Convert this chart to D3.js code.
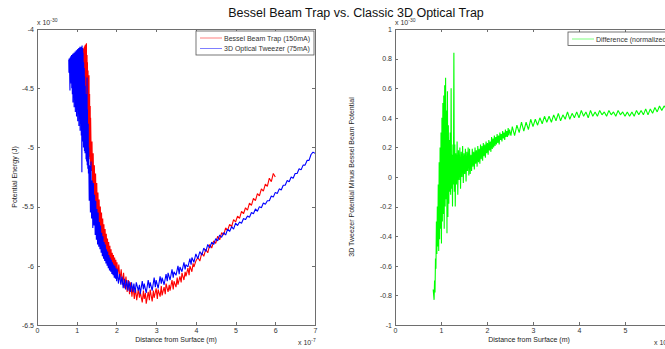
<!DOCTYPE html>
<html>
<head>
<meta charset="utf-8">
<script src="https://cdn.jsdelivr.net/npm/d3@7"></script>
<style>
  body { margin: 0; background: #fff; }
  text { font-family: "Liberation Sans", Arial, sans-serif; }
  .axis path, .axis line { stroke: #6e6e6e; shape-rendering: crispEdges; }
  .axis text { fill: #333; font-size: 7px; font-family: "Liberation Sans", Arial, sans-serif; }
</style>
</head>
<body>
<svg id="chart" width="665" height="349"></svg>
<script>
// distance in units of 1e-7 m, potential in units of 1e-30 J
const besselBeamTrap = [
  [1.10,-4.21],[1.105,-4.40],[1.11,-4.20],[1.12,-4.50],[1.125,-4.19],[1.13,-4.55],[1.14,-4.18],[1.145,-4.62],[1.15,-4.17],[1.16,-4.66],
  [1.165,-4.17],[1.17,-4.70],[1.18,-4.16],[1.185,-4.75],[1.19,-4.15],[1.20,-4.78],[1.205,-4.14],[1.21,-4.82],[1.22,-4.13],[1.225,-4.85],
  [1.23,-4.13],[1.24,-4.88],[1.245,-4.12],[1.25,-4.92],[1.26,-4.22],[1.265,-4.95],[1.27,-4.28],[1.28,-5.00],[1.285,-4.35],[1.29,-5.02],
  [1.30,-4.45],[1.305,-5.05],[1.31,-4.39],[1.32,-5.08],[1.325,-4.55],[1.33,-5.10],[1.34,-4.65],[1.345,-5.15],[1.35,-4.75],
  [1.37,-5.20],[1.385,-4.95],[1.40,-5.32],[1.415,-5.05],[1.43,-5.42],[1.445,-5.15],[1.46,-5.50],[1.475,-5.22],[1.49,-5.58],[1.505,-5.30],
  [1.52,-5.63],[1.535,-5.38],[1.55,-5.68],[1.565,-5.44],[1.58,-5.72],[1.595,-5.50],[1.61,-5.75],[1.625,-5.55],[1.64,-5.79],[1.655,-5.60],
  [1.67,-5.82],[1.685,-5.65],[1.70,-5.85],[1.715,-5.69],[1.73,-5.88],[1.745,-5.73],[1.76,-5.91],[1.775,-5.77],[1.79,-5.93],[1.805,-5.80],
  [1.82,-5.96],[1.835,-5.83],[1.85,-5.98],[1.865,-5.86],[1.88,-6.00],[1.895,-5.89],[1.91,-6.02],[1.925,-5.91],[1.94,-6.04],[1.955,-5.93],
  [1.97,-6.06],[1.985,-5.95],[2.00,-6.07],[2.015,-5.97],[2.03,-6.09],
  [2.06,-5.99],[2.09,-6.12],[2.12,-6.03],[2.15,-6.16],[2.18,-6.06],[2.21,-6.19],[2.24,-6.09],
  [2.27,-6.22],[2.30,-6.12],[2.33,-6.24],[2.36,-6.14],[2.39,-6.26],[2.42,-6.17],[2.45,-6.28],[2.48,-6.19],
  [2.51,-6.29],[2.55,-6.20],[2.58,-6.27],[2.60,-6.22],[2.65,-6.31],[2.68,-6.21],[2.70,-6.28],[2.73,-6.23],[2.75,-6.32],[2.80,-6.22],
  [2.83,-6.29],[2.85,-6.20],[2.90,-6.30],[2.93,-6.21],[2.95,-6.27],[3.00,-6.19],[3.03,-6.28],[3.05,-6.20],[3.10,-6.26],[3.13,-6.17],
  [3.15,-6.25],[3.20,-6.18],[3.23,-6.24],[3.25,-6.15],[3.30,-6.22],[3.33,-6.16],[3.35,-6.21],[3.40,-6.12],[3.43,-6.20],[3.45,-6.13],
  [3.50,-6.18],[3.53,-6.10],[3.55,-6.16],[3.60,-6.09],[3.63,-6.14],[3.65,-6.06],[3.70,-6.12],[3.73,-6.05],[3.75,-6.09],[3.80,-6.02],
  [3.83,-6.08],[3.85,-6.00],[3.90,-6.05],[3.93,-5.98],[3.95,-6.01],[4.00,-5.96],[4.05,-5.93],
  [4.10,-5.96],[4.15,-5.89],[4.20,-5.92],[4.25,-5.86],[4.30,-5.89],[4.35,-5.82],[4.40,-5.85],[4.45,-5.79],[4.50,-5.81],[4.55,-5.75],
  [4.60,-5.78],[4.65,-5.72],[4.70,-5.74],[4.75,-5.68],[4.80,-5.70],[4.85,-5.65],[4.90,-5.67],[4.95,-5.61],[5.00,-5.63],[5.05,-5.58],
  [5.10,-5.60],[5.15,-5.54],[5.20,-5.56],[5.25,-5.51],[5.30,-5.53],[5.35,-5.47],[5.40,-5.49],[5.45,-5.43],[5.50,-5.45],[5.55,-5.39],
  [5.60,-5.41],[5.65,-5.35],[5.70,-5.37],[5.75,-5.31],[5.80,-5.33],[5.85,-5.26],[5.90,-5.29],[5.95,-5.22],[6.00,-5.25]
];

const opticalTweezer = [
  [0.80,-4.26],[0.805,-4.37],[0.81,-4.25],[0.82,-4.33],[0.83,-4.52],[0.835,-4.24],[0.84,-4.41],[0.85,-4.23],[0.86,-4.46],[0.87,-4.22],
  [0.875,-4.50],[0.88,-4.22],[0.89,-4.55],[0.90,-4.21],[0.905,-4.62],[0.91,-4.21],[0.92,-4.58],[0.93,-4.20],[0.935,-4.66],[0.94,-4.20],
  [0.95,-4.60],[0.96,-4.19],[0.965,-4.70],[0.97,-4.19],[0.98,-4.66],[0.99,-4.18],[0.995,-4.74],[1.00,-4.18],[1.01,-4.68],[1.02,-4.17],
  [1.025,-4.78],[1.03,-4.17],[1.04,-4.72],[1.05,-4.16],[1.055,-4.82],[1.06,-4.16],[1.07,-4.76],[1.08,-4.15],[1.085,-4.86],[1.09,-4.16],
  [1.10,-4.80],[1.11,-4.15],[1.115,-4.90],[1.12,-4.15],[1.13,-5.21],[1.135,-4.14],[1.14,-4.88],[1.15,-4.16],[1.155,-4.95],[1.16,-4.20],
  [1.17,-5.00],[1.175,-4.28],[1.18,-4.95],[1.19,-4.33],[1.195,-5.03],[1.20,-4.40],[1.21,-5.05],[1.215,-4.48],[1.22,-5.02],[1.23,-4.55],
  [1.235,-5.10],[1.24,-4.60],[1.25,-5.12],[1.26,-4.41],[1.265,-5.15],[1.27,-4.68],[1.28,-5.18],[1.29,-4.80],[1.295,-5.22],
  [1.30,-5.00],[1.315,-5.45],[1.33,-5.15],[1.345,-5.55],[1.36,-5.12],[1.375,-5.60],[1.39,-5.28],[1.405,-5.68],[1.42,-5.30],[1.435,-5.66],
  [1.45,-5.40],[1.465,-5.74],[1.48,-5.45],[1.495,-5.78],[1.51,-5.52],[1.525,-5.82],[1.54,-5.55],[1.555,-5.84],[1.57,-5.63],[1.585,-5.86],
  [1.60,-5.66],[1.615,-5.89],[1.63,-5.72],[1.645,-5.92],[1.66,-5.75],[1.675,-5.94],[1.69,-5.80],[1.705,-5.96],[1.72,-5.82],[1.735,-5.98],
  [1.75,-5.86],[1.765,-6.00],[1.78,-5.88],[1.795,-6.02],[1.81,-5.91],[1.825,-6.04],[1.84,-5.93],[1.855,-6.05],[1.87,-5.95],[1.885,-6.07],
  [1.90,-5.97],[1.915,-6.08],[1.93,-5.99],[1.945,-6.10],[1.96,-6.00],[1.975,-6.11],[1.99,-6.02],[2.005,-6.13],[2.02,-6.03],
  [2.05,-6.15],[2.08,-6.07],[2.11,-6.16],[2.14,-6.09],[2.17,-6.19],
  [2.20,-6.11],[2.23,-6.20],[2.26,-6.12],[2.29,-6.21],[2.32,-6.13],[2.35,-6.22],[2.38,-6.14],[2.41,-6.22],[2.44,-6.15],[2.47,-6.23],
  [2.50,-6.14],[2.55,-6.21],[2.58,-6.16],[2.60,-6.24],[2.65,-6.13],[2.68,-6.20],[2.70,-6.15],[2.75,-6.23],[2.80,-6.12],[2.83,-6.19],
  [2.85,-6.14],[2.90,-6.21],[2.95,-6.10],[2.98,-6.18],[3.00,-6.12],[3.05,-6.19],[3.10,-6.09],[3.13,-6.15],[3.15,-6.10],[3.20,-6.16],
  [3.25,-6.07],[3.28,-6.13],[3.30,-6.06],[3.35,-6.12],[3.40,-6.03],[3.43,-6.10],[3.45,-6.05],[3.50,-6.08],[3.55,-6.00],[3.58,-6.07],
  [3.60,-6.01],[3.65,-6.05],[3.70,-5.97],[3.73,-6.03],[3.75,-5.99],[3.80,-6.01],[3.85,-5.94],[3.88,-5.99],[3.90,-5.93],[3.95,-5.97],
  [4.00,-5.90],[4.05,-5.94],[4.10,-5.88],[4.15,-5.91],[4.20,-5.85],[4.25,-5.88],[4.30,-5.82],[4.35,-5.85],[4.40,-5.80],[4.45,-5.82],
  [4.50,-5.77],[4.55,-5.79],[4.60,-5.74],[4.65,-5.76],[4.70,-5.72],[4.75,-5.74],[4.80,-5.69],[4.85,-5.71],[4.90,-5.67],[4.95,-5.69],
  [5.00,-5.64],[5.05,-5.66],[5.10,-5.63],[5.15,-5.64],[5.20,-5.60],[5.25,-5.61],[5.30,-5.58],[5.35,-5.59],[5.40,-5.55],[5.45,-5.56],
  [5.50,-5.52],[5.55,-5.54],[5.60,-5.50],[5.65,-5.51],[5.70,-5.47],[5.75,-5.48],[5.80,-5.45],[5.85,-5.45],[5.90,-5.41],[5.95,-5.42],
  [6.00,-5.38],[6.05,-5.39],[6.10,-5.35],[6.15,-5.36],[6.20,-5.32],[6.25,-5.32],[6.30,-5.28],[6.35,-5.29],[6.40,-5.25],[6.45,-5.26],
  [6.50,-5.22],[6.55,-5.22],[6.60,-5.18],[6.65,-5.19],[6.70,-5.15],[6.75,-5.15],[6.80,-5.11],[6.85,-5.11],[6.90,-5.06],[6.95,-5.04],
  [7.00,-5.05]
];

// normalized difference, units of 1e-30
const differenceNormalized = [
  [0.83,-0.76],[0.85,-0.83],[0.86,-0.70],[0.87,-0.78],[0.88,-0.55],[0.89,-0.62],[0.90,-0.30],[0.91,-0.52],[0.92,-0.20],[0.93,-0.47],
  [0.94,-0.05],[0.95,-0.50],[0.96,0.10],[0.97,-0.42],[0.98,0.20],[0.99,-0.35],[1.00,0.30],[1.01,-0.45],[1.02,0.40],[1.03,-0.30],
  [1.04,0.50],[1.05,-0.25],[1.06,0.55],[1.07,-0.35],[1.08,0.62],[1.09,-0.20],[1.10,0.67],[1.11,-0.15],[1.12,0.45],[1.13,-0.38],
  [1.14,0.58],[1.15,-0.27],[1.16,0.35],[1.17,-0.18],[1.18,0.25],[1.19,-0.10],[1.20,0.30],[1.21,-0.12],[1.22,0.60],[1.23,-0.08],
  [1.24,0.15],[1.25,-0.20],[1.26,0.22],[1.27,-0.05],[1.28,0.84],[1.29,-0.10],
  [1.30,0.22],[1.31,-0.20],[1.32,0.16],[1.335,-0.05],[1.35,0.24],[1.365,-0.12],[1.38,0.18],[1.395,-0.02],[1.41,0.20],[1.425,-0.08],
  [1.44,0.17],[1.455,0.00],[1.47,0.21],[1.485,-0.04],[1.50,0.16],[1.515,0.02],[1.53,0.19],[1.545,-0.03],[1.56,0.17],[1.575,0.04],
  [1.59,0.20],[1.605,0.01],[1.62,0.19],
  [1.635,0.02],[1.65,0.15],[1.665,0.04],[1.68,0.19],[1.695,0.07],[1.71,0.17],[1.725,0.05],[1.74,0.20],[1.755,0.09],[1.77,0.18],
  [1.785,0.07],[1.80,0.21],[1.815,0.10],[1.83,0.19],[1.845,0.09],[1.86,0.22],[1.875,0.12],[1.89,0.21],[1.905,0.11],[1.92,0.23],
  [1.935,0.14],[1.95,0.22],[1.965,0.13],[1.98,0.24],[1.995,0.16],[2.01,0.23],[2.025,0.15],[2.04,0.25],[2.055,0.18],[2.07,0.24],
  [2.085,0.17],[2.10,0.27],[2.115,0.19],[2.13,0.26],[2.145,0.20],[2.16,0.28],[2.175,0.21],[2.19,0.27],[2.205,0.22],[2.22,0.29],
  [2.235,0.23],[2.25,0.28],[2.265,0.22],[2.28,0.30],[2.295,0.25],[2.31,0.29],[2.325,0.24],[2.34,0.31],[2.355,0.26],[2.37,0.30],
  [2.385,0.25],[2.40,0.32],[2.415,0.27],[2.43,0.31],[2.445,0.27],[2.46,0.33],[2.475,0.28],[2.49,0.32],[2.52,0.28],[2.55,0.34],
  [2.60,0.28],[2.65,0.35],[2.70,0.30],[2.75,0.37],[2.80,0.31],[2.85,0.37],[2.90,0.32],[2.95,0.39],[3.00,0.34],[3.05,0.39],
  [3.10,0.35],[3.15,0.40],[3.20,0.36],[3.25,0.41],[3.30,0.37],[3.35,0.41],[3.40,0.37],[3.45,0.42],[3.50,0.38],[3.55,0.43],
  [3.60,0.38],[3.65,0.42],[3.70,0.39],[3.75,0.44],[3.80,0.39],[3.85,0.43],[3.90,0.40],[3.95,0.44],[4.00,0.40],[4.05,0.45],
  [4.10,0.41],[4.15,0.44],[4.20,0.40],[4.25,0.45],[4.30,0.41],[4.35,0.44],[4.40,0.41],[4.45,0.45],[4.50,0.42],[4.55,0.44],
  [4.60,0.41],[4.65,0.45],[4.70,0.42],[4.75,0.44],[4.80,0.41],[4.85,0.45],[4.90,0.42],[4.95,0.44],[5.00,0.41],[5.05,0.44],
  [5.10,0.41],[5.15,0.44],[5.20,0.41],[5.25,0.45],[5.30,0.42],[5.35,0.45],[5.40,0.42],[5.45,0.46],[5.50,0.42],[5.55,0.46],
  [5.60,0.43],[5.65,0.47],[5.70,0.44],[5.75,0.48],[5.80,0.45],[5.85,0.48],[5.90,0.46],[5.95,0.47]
];

const leftXTicks = [0, 1, 2, 3, 4, 5, 6, 7];
const leftYTicks = [-4, -4.5, -5, -5.5, -6, -6.5];
const rightXTicks = [0, 1, 2, 3, 4, 5, 6];
const rightYTicks = [1, 0.8, 0.6, 0.4, 0.2, 0, -0.2, -0.4, -0.6, -0.8, -1];
const leftLegend = ["Bessel Beam Trap (150mA)", "3D Optical Tweezer (75mA)"];
const rightLegend = ["Difference (normalized)"];

const svg = d3.select("#chart");

svg.append("text")
  .attr("x", 356).attr("y", 17)
  .attr("text-anchor", "middle")
  .style("font-size", "12.5px")
  .style("fill", "#111")
  .text("Bessel Beam Trap vs. Classic 3D Optical Trap");

function drawPanel(p) {
  const x = d3.scaleLinear().domain(p.xDomain).range([p.left, p.right]);
  const y = d3.scaleLinear().domain(p.yDomain).range([p.bottom, p.top]);
  const fmt = d => String(d);

  const g = svg.append("g");

  g.append("defs").append("clipPath").attr("id", p.id + "-clip")
    .append("rect")
    .attr("x", p.left).attr("y", p.top)
    .attr("width", p.right - p.left).attr("height", p.bottom - p.top);

  // data lines
  const line = d3.line().x(d => x(d[0])).y(d => y(d[1]));
  p.series.forEach(s => {
    g.append("path")
      .datum(s.data)
      .attr("clip-path", "url(#" + p.id + "-clip)")
      .attr("fill", "none")
      .attr("stroke", s.color)
      .attr("stroke-width", 1.1)
      .attr("stroke-linejoin", "bevel")
      .attr("d", line);
  });

  // axes, ticks inward on all four sides
  g.append("g").attr("class", "axis")
    .attr("transform", "translate(0," + p.bottom + ")")
    .call(d3.axisBottom(x).tickValues(p.xTicks).tickFormat(fmt).tickSizeInner(-3).tickSizeOuter(0).tickPadding(3));
  g.append("g").attr("class", "axis")
    .attr("transform", "translate(0," + p.top + ")")
    .call(d3.axisTop(x).tickValues(p.xTicks).tickFormat("").tickSizeInner(-3).tickSizeOuter(0));
  g.append("g").attr("class", "axis")
    .attr("transform", "translate(" + p.left + ",0)")
    .call(d3.axisLeft(y).tickValues(p.yTicks).tickFormat(fmt).tickSizeInner(-3).tickSizeOuter(0).tickPadding(3));
  g.append("g").attr("class", "axis")
    .attr("transform", "translate(" + p.right + ",0)")
    .call(d3.axisRight(y).tickValues(p.yTicks).tickFormat("").tickSizeInner(-3).tickSizeOuter(0));

  // exponent labels
  const yExp = g.append("text").attr("x", p.left).attr("y", p.top - 4)
    .style("font-size", "7px").style("fill", "#333");
  yExp.append("tspan").text("x 10");
  yExp.append("tspan").attr("dy", -3).style("font-size", "5px").text("-30");

  const xExp = g.append("text").attr("x", p.right - 17).attr("y", p.bottom + 20)
    .style("font-size", "7px").style("fill", "#333");
  xExp.append("tspan").text("x 10");
  xExp.append("tspan").attr("dy", -3).style("font-size", "5px").text("-7");

  // axis titles
  g.append("text")
    .attr("x", (p.left + p.right) / 2 + p.xLabelShift).attr("y", p.bottom + 17)
    .attr("text-anchor", "middle")
    .style("font-size", "7px").style("fill", "#222")
    .text(p.xLabel);
  g.append("text")
    .attr("transform", "translate(" + p.yLabelX + "," + (p.top + p.bottom) / 2 + ") rotate(-90)")
    .attr("text-anchor", "middle")
    .style("font-size", "7px").style("fill", "#222")
    .text(p.yLabel);

  // legend
  const lg = g.append("g").attr("transform", "translate(" + p.legend.x + "," + p.legend.y + ")");
  lg.append("rect")
    .attr("width", p.legend.w).attr("height", p.series.length * 10.5 + 3)
    .attr("fill", "#fff").attr("stroke", "#555").attr("stroke-width", 0.8);
  p.series.forEach((s, i) => {
    const cy = 7 + i * 10.5;
    lg.append("line")
      .attr("x1", 4).attr("x2", 26).attr("y1", cy).attr("y2", cy)
      .attr("stroke", s.color).attr("stroke-opacity", 0.5).attr("stroke-width", 1);
    lg.append("text")
      .attr("x", 28).attr("y", cy + 2.5)
      .style("font-size", "7px").style("fill", "#333")
      .text(s.name);
  });
}

drawPanel({
  id: "left",
  left: 37, right: 315, top: 29, bottom: 325,
  xDomain: [0, 7], yDomain: [-6.5, -4],
  xTicks: leftXTicks, yTicks: leftYTicks,
  xLabel: "Distance from Surface (m)", xLabelShift: 0,
  yLabel: "Potential Energy (J)", yLabelX: 17,
  series: [
    {name: leftLegend[0], color: "#ff0000", data: besselBeamTrap},
    {name: leftLegend[1], color: "#0000ff", data: opticalTweezer}
  ],
  legend: {x: 196, y: 31, w: 118}
});

drawPanel({
  id: "right",
  left: 395, right: 671, top: 29, bottom: 325,
  xDomain: [0, 6], yDomain: [-1, 1],
  xTicks: rightXTicks, yTicks: rightYTicks,
  xLabel: "Distance from Surface (m)", xLabelShift: -4,
  yLabel: "3D Tweezer Potential Minus Bessel Beam Potential", yLabelX: 354,
  series: [
    {name: rightLegend[0], color: "#00ff00", data: differenceNormalized}
  ],
  legend: {x: 568, y: 32, w: 102}
});
</script>
</body>
</html>
